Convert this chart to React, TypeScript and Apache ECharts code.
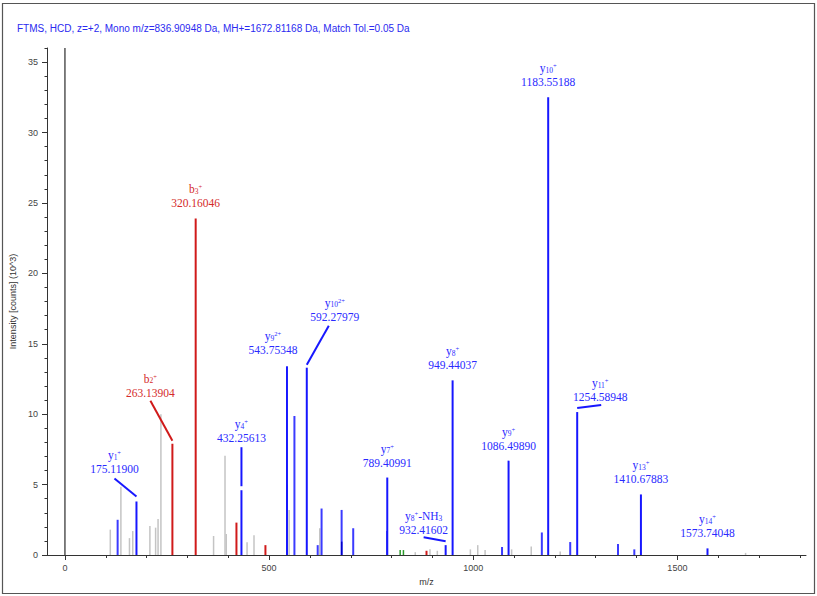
import React, { useEffect, useRef } from "react";
import * as echarts from "echarts";

const TITLE = "FTMS, HCD, z=+2, Mono m/z=836.90948 Da, MH+=1672.81168 Da, Match Tol.=0.05 Da";
const X_NAME = "m/z";
const Y_NAME = "Intensity [counts] (10^3)";

const xTickValues = [0, 500, 1000, 1500];
const xMinorTickValues = [100, 200, 300, 400, 600, 700, 800, 900, 1100, 1200, 1300, 1400, 1600, 1700, 1800];
const yTickValues = [0, 5, 10, 15, 20, 25, 30, 35];
const yMinorTickValues = [1, 2, 3, 4, 6, 7, 8, 9, 11, 12, 13, 14, 16, 17, 18, 19, 21, 22, 23, 24, 26, 27, 28, 29, 31, 32, 33, 34, 36];

// Annotated fragment ions
const ionMz = [175.119, 263.13904, 320.16046, 432.25613, 543.75348, 592.27979, 789.40991, 932.41602, 949.44037, 1086.4989, 1183.55188, 1254.58948, 1410.67883, 1573.74048];
const ionIntensity = [3.8, 7.9, 23.9, 4.6, 13.4, 13.3, 5.5, 0.7, 12.4, 6.7, 32.5, 10.15, 4.3, 0.47];
const ionType = ["y", "b", "b", "y", "y", "y", "y", "y", "y", "y", "y", "y", "y", "y"];
const ionNumber = ["1", "2", "3", "4", "9", "10", "7", "8", "8", "9", "10", "11", "13", "14"];
const ionCharge = ["+", "+", "+", "+", "2+", "2+", "+", "+", "+", "+", "+", "+", "+", "+"];
const ionLoss = ["", "", "", "", "", "", "", "-NH3", "", "", "", "", "", ""];

// Unassigned / other peaks
const greyMz = [111, 137, 158, 166, 208, 222, 228, 235, 364, 392, 395, 446, 463, 549, 624, 858, 894, 912, 993, 1011, 1029, 1094, 1142, 1213, 1667];
const greyIntensity = [1.8, 4.85, 1.2, 1.7, 2.06, 1.94, 2.56, 10.0, 1.35, 7.05, 1.5, 0.9, 1.4, 3.2, 1.9, 0.2, 0.4, 0.3, 0.4, 0.7, 0.35, 0.4, 0.6, 0.25, 0.15];
const blueMz = [129, 562, 619, 628.5, 677.6, 706, 1070.5, 1168, 1237.5, 1354.5, 1394.5];
const blueIntensity = [2.5, 9.87, 0.7, 3.3, 3.2, 1.9, 0.57, 1.6, 0.92, 0.78, 0.4];
const darkBlueMz = [543.6, 677.8, 789.1];
const darkBlueIntensity = [5.0, 0.95, 1.7];
const redMz = [420, 491, 885.5];
const redIntensity = [2.3, 0.7, 0.3];
const greenMz = [821, 829];
const greenIntensity = [0.35, 0.35];
const blackMz = [0];
const blackIntensity = [36];

// Label layout (pixels relative to peak top): [dx, dy]
const labelOffset = [
  [-22, -32], [-22, -51], [0, -15], [0, -52], [-14, -16], [28, -51], [0, -15],
  [-22, -15], [0, -15], [0, -15], [0, -15], [23, -15], [0, -15], [0, -15],
];
// Leader lines: [startDx, startDy (rel. label), endDx, endDy (rel. peak top)] or null
const leaderLines: (number[] | null)[] = [
  [0, 9, 0, -5], [0, 8, 0, -3], null, [0, 9, 0, -4], null, [-6, 9, 0, -3], null,
  [0, 7, 0, -4], null, null, null, [1, 8, 0, -4], null, null,
];

const BLUE = "#1717ff";
const BLUE_TEXT = "#2a2aff";
const RED = "#d01a1a";
const RED_TEXT = "#d42a2a";
const SERIF = "'Liberation Serif', 'Times New Roman', serif";
const SANS = "'Liberation Sans', Arial, sans-serif";

function stickSeries(mz: number[], inten: number[], color: string, width: number) {
  return {
    type: "custom",
    xAxisIndex: 0,
    yAxisIndex: 0,
    data: mz.map((m, i) => [m, inten[i]]),
    renderItem: (params: any, api: any) => {
      const x = api.value(0);
      const h = api.value(1);
      const p0 = api.coord([x, 0]);
      const p1 = api.coord([x, h]);
      return {
        type: "line",
        shape: { x1: p0[0], y1: p0[1], x2: p1[0], y2: p1[1] },
        style: { stroke: color, lineWidth: width },
      };
    },
  };
}

function ionRich(i: number) {
  let s = `{m|${ionType[i]}}{s|${ionNumber[i]}}{p|${ionCharge[i]}}`;
  const loss = ionLoss[i];
  if (loss) {
    const mm = loss.match(/^(.*?)(\d+)$/);
    if (mm) s += `{m|${mm[1]}}{s|${mm[2]}}`;
    else s += `{m|${loss}}`;
  }
  return s;
}

export default function App() {
  const ref = useRef<HTMLDivElement>(null);
  useEffect(() => {
    if (!ref.current) return;
    const chart = echarts.init(ref.current, undefined, { renderer: "svg" });
    const annotated = {
      type: "custom",
      xAxisIndex: 0,
      yAxisIndex: 0,
      z: 5,
      data: ionMz.map((m, i) => [m, ionIntensity[i]]),
      renderItem: (params: any, api: any) => {
        const i = params.dataIndex;
        const x = api.value(0);
        const h = api.value(1);
        const base = api.coord([x, 0]);
        const top = api.coord([x, h]);
        const isB = ionType[i] === "b";
        const color = isB ? RED : BLUE;
        const tcolor = isB ? RED_TEXT : BLUE_TEXT;
        const lx = top[0] + labelOffset[i][0];
        const ly = top[1] + labelOffset[i][1];
        const children: any[] = [
          {
            type: "line",
            shape: { x1: base[0], y1: base[1], x2: top[0], y2: top[1] },
            style: { stroke: color, lineWidth: 2 },
          },
          {
            type: "text",
            x: lx,
            y: ly,
            style: {
              text: ionMz[i].toFixed(5),
              fill: tcolor,
              fontSize: 11.5,
              fontFamily: SERIF,
              align: "center",
              verticalAlign: "middle",
            },
          },
          {
            type: "text",
            x: lx,
            y: ly - 14,
            style: {
              text: ionRich(i),
              align: "center",
              verticalAlign: "middle",
              rich: {
                m: { fontSize: 11.5, fontFamily: SERIF, fill: tcolor, lineHeight: 12 },
                s: { fontSize: 7.5, fontFamily: SERIF, fill: tcolor, lineHeight: 6, verticalAlign: "bottom" },
                p: { fontSize: 6.5, fontFamily: SERIF, fill: tcolor, lineHeight: 6, verticalAlign: "top" },
              },
            },
          },
        ];
        const ld = leaderLines[i];
        if (ld) {
          children.push({
            type: "line",
            shape: { x1: lx + ld[0], y1: ly + ld[1], x2: top[0] + ld[2], y2: top[1] + ld[3] },
            style: { stroke: color, lineWidth: 2 },
          });
        }
        return { type: "group", children };
      },
    };

    const axisLineStyle = { color: "#333", width: 1 };
    const xBase = { type: "value", min: -44, max: 1815, gridIndex: 0 };
    const yBase = { type: "value", min: 0, max: 36, gridIndex: 0 };

    const option: any = {
      animation: false,
      title: {
        text: TITLE,
        left: 17,
        top: 23,
        padding: 0,
        textStyle: { fontSize: 10, fontWeight: "normal", color: "#2a2af0", fontFamily: SANS },
      },
      graphic: [
        {
          type: "rect",
          shape: { x: 2.5, y: 3.5, width: 812, height: 590 },
          style: { fill: "none", stroke: "#555", lineWidth: 1.2 },
          silent: true,
        },
      ],
      grid: { left: 47, right: 11, top: 48, bottom: 41 },
      xAxis: [
        {
          ...xBase,
          name: X_NAME,
          nameLocation: "middle",
          nameGap: 22,
          nameTextStyle: { fontSize: 9, color: "#333", fontFamily: SANS },
          axisLine: { onZero: false, lineStyle: axisLineStyle },
          axisTick: { customValues: xTickValues, length: 5, lineStyle: axisLineStyle },
          axisLabel: {
            customValues: xTickValues,
            fontSize: 9,
            color: "#444",
            margin: 8,
            fontFamily: SANS,
            formatter: (v: number) => String(v),
          },
          splitLine: { show: false },
        },
        {
          ...xBase,
          position: "bottom",
          axisLine: { show: false, onZero: false },
          axisTick: { customValues: xMinorTickValues, length: 3, lineStyle: axisLineStyle },
          axisLabel: { show: false },
          splitLine: { show: false },
        },
      ],
      yAxis: [
        {
          ...yBase,
          name: Y_NAME,
          nameLocation: "middle",
          nameGap: 30,
          nameTextStyle: { fontSize: 9, color: "#333", fontFamily: SANS },
          axisLine: { show: true, onZero: false, lineStyle: axisLineStyle },
          axisTick: { show: true, customValues: yTickValues, length: 5, lineStyle: axisLineStyle },
          axisLabel: {
            customValues: yTickValues,
            fontSize: 9,
            color: "#444",
            margin: 9,
            fontFamily: SANS,
            formatter: (v: number) => String(v),
          },
          splitLine: { show: false },
        },
        {
          ...yBase,
          position: "left",
          axisLine: { show: false, onZero: false },
          axisTick: { show: true, customValues: yMinorTickValues, length: 2.5, lineStyle: axisLineStyle },
          axisLabel: { show: false },
          splitLine: { show: false },
        },
      ],
      series: [
        stickSeries(greyMz, greyIntensity, "#c4c4c4", 1.5),
        stickSeries(blackMz, blackIntensity, "#000", 1),
        stickSeries(greenMz, greenIntensity, "#2a9a2a", 1.5),
        stickSeries(redMz, redIntensity, RED, 2),
        stickSeries(blueMz, blueIntensity, "#3b3bff", 2),
        annotated,
        stickSeries(darkBlueMz, darkBlueIntensity, "#0000c8", 1.5),
      ],
    };
    chart.setOption(option);
    return () => chart.dispose();
  }, []);

  return (
    <div
      ref={ref}
      style={{ position: "fixed", left: 0, top: 0, width: 817, height: 596, background: "#fff" }}
    />
  );
}
